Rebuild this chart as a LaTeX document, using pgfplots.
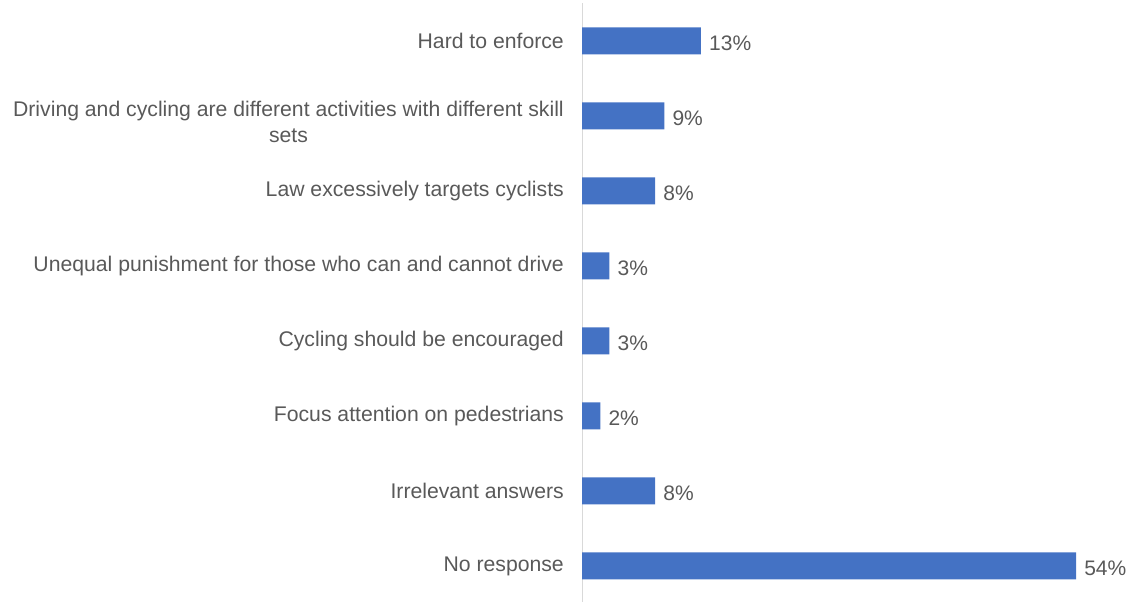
\documentclass[border=0pt]{standalone}
\usepackage{pgfplots}
\pgfplotsset{compat=1.18}
\usepackage{fontspec}
\setmainfont{Liberation Sans}
\definecolor{barblue}{HTML}{4472C4}
\definecolor{labelgray}{HTML}{595959}
\definecolor{axisgray}{HTML}{D9D9D9}
\begin{document}
\begin{tikzpicture}
\begin{axis}[
  at={(582pt,-1.5pt)}, anchor=south west,
  scale only axis,
  width=549pt, height=600pt,
  xbar, bar width=27pt,
  xmin=0, xmax=60,
  ymin=-0.5, ymax=7.5,
  axis x line=none,
  axis y line*=left,
  y axis line style={draw=axisgray, line width=1pt, -},
  ytick={0,...,7},
  yticklabels={
    No response,
    Irrelevant answers\ ,
    Focus attention on pedestrians,
    Cycling should be encouraged,
    Unequal punishment for those who can and cannot drive,
    Law excessively targets cyclists,
    {\raisebox{-8pt}[\height][\depth]{\begin{tabular}{@{}c@{}}Driving and cycling are different activities with different skill\\sets\end{tabular}}},
    Hard to enforce},
  major tick length=0pt,
  /pgf/number format/assume math mode=true,
  yticklabel style={font=\fontsize{21.2}{26.5}\selectfont, text=labelgray, inner sep=0pt, xshift=-18pt},
  nodes near coords={\pgfmathprintnumber{\pgfplotspointmeta}\%},
  every node near coord/.append style={anchor=west, font=\fontsize{21}{26}\selectfont, text=labelgray, inner sep=0pt, xshift=8pt, yshift=-2pt},
]
\addplot[fill=barblue, draw=none] coordinates {
  (54,0) (8,1) (2,2) (3,3) (3,4) (8,5) (9,6) (13,7)
};
\end{axis}
\pgfresetboundingbox
\useasboundingbox (0,0) rectangle (1132pt,602pt);
\end{tikzpicture}
\end{document}
